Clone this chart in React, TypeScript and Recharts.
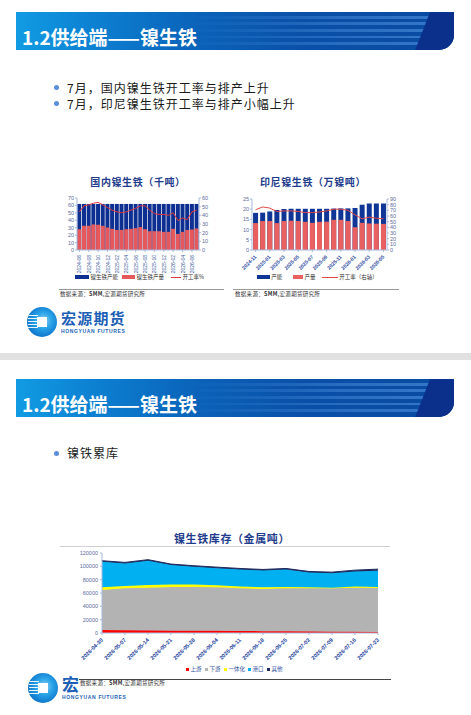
import React from 'react';
import { ComposedChart, Bar, Line, XAxis, YAxis, Legend, AreaChart, Area } from 'recharts';

// ---------- Chart 1: 国内镍生铁（千吨） ----------
const cnMonths = [
  '2024-06', '2024-07', '2024-08', '2024-09', '2024-10', '2024-11', '2024-12',
  '2025-01', '2025-02', '2025-03', '2025-04', '2025-05', '2025-06', '2025-07',
  '2025-08', '2025-09', '2025-10', '2025-11', '2025-12', '2026-01', '2026-02',
  '2026-03', '2026-04', '2026-05', '2026-06', '2026-07',
];
const cnCapacity = [62, 62, 62, 62, 62, 62, 62, 62, 62, 62, 62, 62, 62, 62, 62, 62, 62, 62, 62, 62, 62, 62, 62, 62, 62, 62];
const cnOutput = [28, 32.6, 32.6, 34.4, 34, 32.6, 30.3, 28.5, 27, 27, 28, 28.5, 29.4, 30.8, 28, 25.3, 25.3, 25.3, 24.4, 24.4, 28.5, 21.7, 24.4, 27, 27.6, 29];
const cnRate = [44, 51, 52, 54, 55, 52, 49, 46, 44, 43, 44, 46, 48, 51, 51, 46, 42, 41, 41, 40, 43, 34, 37, 35, 44, 46];
const cnLeftTicks = [0, 10, 20, 30, 40, 50, 60, 70];
const cnRightTicks = [0, 10, 20, 30, 40, 50, 60];

// ---------- Chart 2: 印尼镍生铁（万镍吨） ----------
const idMonths = [
  '2024-11', '2024-12', '2025-01', '2025-02', '2025-03', '2025-04', '2025-05',
  '2025-06', '2025-07', '2025-08', '2025-09', '2025-10', '2025-11', '2025-12',
  '2026-01', '2026-02', '2026-03', '2026-04', '2026-05',
];
const idCapacity = [18.2, 18.3, 18.9, 19.6, 20.1, 20.2, 20.2, 20.2, 20.2, 20.2, 20.2, 20.3, 20.4, 20.4, 20.6, 22.2, 22.8, 22.8, 22.8];
const idOutput = [13.2, 14.2, 14.2, 13.2, 14.2, 14.3, 14.2, 13.8, 13.3, 13.8, 13.9, 14.8, 14.8, 14.2, 11.2, 13.3, 13.0, 12.9, 12.8];
const idRate = [71, 76, 74, 68, 69, 69, 68, 66, 66, 67, 69, 72, 72, 70, 62, 55, 58, 56, 55];
const idLeftTicks = [0, 5, 10, 15, 20, 25];
const idRightTicks = [0, 10, 20, 30, 40, 50, 60, 70, 80, 90];

// ---------- Chart 3: 镍生铁库存（金属吨） ----------
const invDates = [
  '2026-04-30', '2026-05-07', '2026-05-14', '2026-05-21', '2026-05-28', '2026-06-04', '2026-06-11',
  '2026-06-18', '2026-06-25', '2026-07-02', '2026-07-09', '2026-07-16', '2026-07-23',
];
const invUpstream = [4500, 4000, 3800, 3500, 3300, 3200, 3000, 2800, 2600, 2300, 2000, 1800, 1500];
const invDownstream = [60000, 63000, 64200, 65500, 65700, 65400, 64000, 63200, 64400, 64700, 65000, 66200, 66500];
const invIntegrated = [4100, 3600, 4100, 3600, 3600, 3000, 2600, 2600, 2000, 1600, 1000, 1600, 1000];
const invPort = [38300, 33800, 36400, 29300, 26800, 25700, 25700, 25200, 26300, 22200, 21800, 22700, 24300];
const invOther = [1500, 1500, 1500, 1500, 1500, 1500, 1500, 1500, 1500, 1500, 1500, 2000, 2500];
const invTicks = [0, 20000, 40000, 60000, 80000, 100000, 120000];

const cnData = cnMonths.map((m, i) => ({ m, cap: cnCapacity[i], out: cnOutput[i], rate: cnRate[i] }));
const idData = idMonths.map((m, i) => ({ m, cap: idCapacity[i], out: idOutput[i], rate: idRate[i] }));
const invData = invDates.map((d, i) => ({
  d, up: invUpstream[i], down: invDownstream[i], integ: invIntegrated[i], port: invPort[i], other: invOther[i],
}));

const CJK = '"Noto Sans CJK SC", "Noto Sans", sans-serif';
const NUM = '"Liberation Sans", Arial, "Noto Sans CJK SC", sans-serif';

const VTick = (props: any) => {
  const { x, y, payload } = props;
  return (
    <g transform={`translate(${x},${y + 1})`}>
      <text transform="rotate(-90)" textAnchor="end" dominantBaseline="central" fontSize={5} fill="#3a5aa0" fontFamily={NUM}>
        {payload.value}
      </text>
    </g>
  );
};

const DTick = (size: number, color: string, weight: number) => (props: any) => {
  const { x, y, payload } = props;
  return (
    <g transform={`translate(${x},${y + 2})`}>
      <text transform="rotate(-45)" textAnchor="end" dy={size * 0.35} fontSize={size} fontWeight={weight} fill={color} fontFamily={NUM}>
        {payload.value}
      </text>
    </g>
  );
};

type LItem = { x: number; kind: 'bar' | 'line' | 'sq'; color: string; label: string; w: number };
const makeLegend = (items: LItem[], textColor: string) => () => (
  <div style={{ position: 'relative', height: 10, width: '100%' }}>
    {items.map((it) => (
      <div
        key={it.label}
        style={{
          position: 'absolute', left: it.x, top: 0, height: 10, display: 'flex', alignItems: 'center',
          whiteSpace: 'nowrap', fontSize: 5.5, color: textColor, lineHeight: '10px', fontFamily: CJK,
        }}
      >
        <span
          style={{
            display: 'inline-block', width: it.w, height: it.kind === 'line' ? 1 : it.kind === 'sq' ? 3 : 4,
            background: it.color, marginRight: 1.5,
          }}
        />
        {it.label}
      </div>
    ))}
  </div>
);

const axisColor = '#a9bbdc';
const yTickStyle = { fontSize: 5.5, fill: '#5a6c9c', fontFamily: NUM };

function Banner({ top }: { top: number }) {
  const stripes = [3.7, 10, 16.7, 23.4, 30];
  return (
    <div
      style={{
        position: 'absolute', left: 16, top, width: 438, height: 38, borderBottomRightRadius: 15, overflow: 'hidden',
        background: 'linear-gradient(90deg, #119be3 0%, #0c7dcf 20%, #0a62b8 42%, #0a50a8 65%, #0a4aa2 100%)',
      }}
    >
      {stripes.map((s, i) => (
        <div
          key={i}
          style={{
            position: 'absolute', left: 170, top: s, width: 250, height: 2.8,
            background: 'linear-gradient(90deg, rgba(70,140,220,0) 0%, rgba(70,140,220,0.45) 55%, rgba(80,150,225,0.6) 100%)',
          }}
        />
      ))}
      <div
        style={{
          position: 'absolute', left: 0, top: 0, width: 438, height: 38, background: '#0a308c',
          clipPath: 'polygon(414px 0, 438px 0, 438px 38px, 399px 38px)',
        }}
      />
      <div
        style={{
          position: 'absolute', left: 6, top: 15, color: '#fff', fontSize: 19, fontWeight: 700, lineHeight: '19px',
          fontFamily: CJK, whiteSpace: 'nowrap',
        }}
      >
        1.2供给端——镍生铁
      </div>
    </div>
  );
}

function LogoCircle({ left, top }: { left: number; top: number }) {
  const lines = [8, 11, 14, 17, 20];
  return (
    <div
      style={{
        position: 'absolute', left, top, width: 30, height: 30, borderRadius: '50%', overflow: 'hidden',
        background: 'radial-gradient(circle at 55% 45%, #8fd0f5 0%, #2aa3e8 35%, #0f78cc 70%, #0b5db3 100%)',
      }}
    >
      {lines.map((y, i) => (
        <div key={i} style={{ position: 'absolute', left: 1, top: y, width: 10, height: 1.3, background: '#fff', opacity: 0.9 }} />
      ))}
      <div style={{ position: 'absolute', left: 10, top: 10, width: 10, height: 10, background: '#fff' }} />
    </div>
  );
}

function Bullet({ top, text }: { top: number; text: string }) {
  return (
    <>
      <div style={{ position: 'absolute', left: 54, top: top - 2.5, width: 5, height: 5, borderRadius: '50%', background: '#5b8ed8' }} />
      <div
        style={{
          position: 'absolute', left: 67, top: top - 8, fontSize: 12, lineHeight: '16px', letterSpacing: 1,
          color: '#1a1a1a', fontFamily: CJK, whiteSpace: 'nowrap',
        }}
      >
        {text}
      </div>
    </>
  );
}

function Source({ left, top }: { left: number; top: number }) {
  return (
    <div style={{ position: 'absolute', left, top, fontSize: 5.5, lineHeight: '7px', color: '#333', fontFamily: CJK, whiteSpace: 'nowrap', letterSpacing: 0.3 }}>
      数据来源：<b>SMM</b>,宏源期货研究所
    </div>
  );
}

function ChartTitle({ cx, cy, text, size }: { cx: number; cy: number; text: string; size: number }) {
  return (
    <div
      style={{
        position: 'absolute', left: cx - 100, top: cy - size / 2 - 1, width: 200, textAlign: 'center', fontSize: size,
        lineHeight: `${size + 2}px`, fontWeight: 700, color: '#1f3d8c', fontFamily: CJK, whiteSpace: 'nowrap', letterSpacing: 0.6,
      }}
    >
      {text}
    </div>
  );
}

export default function App() {
  return (
    <div style={{ position: 'absolute', left: 0, top: 0, width: 471, height: 715, background: '#fff', overflow: 'hidden' }}>
      {/* ---------- Slide 1 ---------- */}
      <Banner top={12.3} />
      <Bullet top={87.5} text="7月，国内镍生铁开工率与排产上升" />
      <Bullet top={103.5} text="7月，印尼镍生铁开工率与排产小幅上升" />

      <ChartTitle cx={138} cy={182} text="国内镍生铁（千吨）" size={10} />
      <div style={{ position: 'absolute', left: 55, top: 190 }}>
        <ComposedChart width={158} height={98} data={cnData} margin={{ top: 8, right: 0, bottom: 6, left: 0 }} barCategoryGap="6%">
          <XAxis xAxisId="a" dataKey="m" interval={1} height={22} tick={<VTick />} tickLine={{ stroke: axisColor }} tickSize={2} axisLine={{ stroke: axisColor }} />
          <XAxis xAxisId="b" dataKey="m" hide />
          <YAxis yAxisId="l" domain={[0, 70]} ticks={cnLeftTicks} interval={0} width={22} tick={yTickStyle} tickSize={2} tickMargin={1} axisLine={{ stroke: axisColor }} tickLine={{ stroke: axisColor }} />
          <YAxis yAxisId="r" orientation="right" domain={[0, 60]} ticks={cnRightTicks} interval={0} width={14} tick={yTickStyle} tickSize={2} tickMargin={1} axisLine={{ stroke: axisColor }} tickLine={{ stroke: axisColor }} />
          <Bar xAxisId="a" yAxisId="l" dataKey="cap" name="镍生铁产能" fill="#0d2f91" isAnimationActive={false} />
          <Bar xAxisId="b" yAxisId="l" dataKey="out" name="镍生铁产量" fill="#e5585c" isAnimationActive={false} />
          <Line xAxisId="a" yAxisId="r" dataKey="rate" name="开工率%" stroke="#e0393e" strokeWidth={1} dot={false} type="linear" isAnimationActive={false} />
          <Legend
            verticalAlign="bottom"
            height={10}
            wrapperStyle={{ left: 0, width: 158 }}
            content={makeLegend(
              [
                { x: 20, kind: 'bar', color: '#0d2f91', label: '镍生铁产能', w: 14 },
                { x: 67, kind: 'bar', color: '#e5585c', label: '镍生铁产量', w: 13 },
                { x: 116, kind: 'line', color: '#e0393e', label: '开工率%', w: 10 },
              ],
              '#333'
            )}
          />
        </ComposedChart>
      </div>

      <ChartTitle cx={313} cy={182} text="印尼镍生铁（万镍吨）" size={10} />
      <div style={{ position: 'absolute', left: 228, top: 190 }}>
        <ComposedChart width={180} height={98} data={idData} margin={{ top: 9, right: 0, bottom: 6, left: 0 }} barCategoryGap="15%">
          <XAxis xAxisId="a" dataKey="m" interval={1} height={22} tick={DTick(5, '#2b4aa0', 700)} tickLine={{ stroke: axisColor }} tickSize={2} axisLine={{ stroke: axisColor }} />
          <XAxis xAxisId="b" dataKey="m" hide />
          <YAxis yAxisId="l" domain={[0, 25]} ticks={idLeftTicks} interval={0} width={24} tick={yTickStyle} tickSize={2} tickMargin={1} axisLine={{ stroke: axisColor }} tickLine={{ stroke: axisColor }} />
          <YAxis yAxisId="r" orientation="right" domain={[0, 90]} ticks={idRightTicks} interval={0} width={21} tick={yTickStyle} tickSize={2} tickMargin={1} axisLine={{ stroke: axisColor }} tickLine={{ stroke: axisColor }} />
          <Bar xAxisId="a" yAxisId="l" dataKey="cap" name="产能" fill="#0f3596" isAnimationActive={false} />
          <Bar xAxisId="b" yAxisId="l" dataKey="out" name="产量" fill="#e8605f" isAnimationActive={false} />
          <Line xAxisId="a" yAxisId="r" dataKey="rate" name="开工率（右轴）" stroke="#e04848" strokeWidth={1} dot={false} type="linear" isAnimationActive={false} />
          <Legend
            verticalAlign="bottom"
            height={10}
            wrapperStyle={{ left: 0, width: 180 }}
            content={makeLegend(
              [
                { x: 28.7, kind: 'bar', color: '#0f3596', label: '产能', w: 13 },
                { x: 65, kind: 'bar', color: '#e8605f', label: '产量', w: 10 },
                { x: 93.7, kind: 'line', color: '#e04848', label: '开工率（右轴）', w: 16 },
              ],
              '#333'
            )}
          />
        </ComposedChart>
      </div>

      <div style={{ position: 'absolute', left: 59, top: 289, width: 165, height: 1, background: '#9a9a9a' }} />
      <div style={{ position: 'absolute', left: 233, top: 289, width: 166, height: 1, background: '#9a9a9a' }} />
      <Source left={60} top={291} />
      <Source left={235} top={291} />

      <LogoCircle left={27} top={307} />
      <div style={{ position: 'absolute', left: 61, top: 309.5, fontSize: 15, lineHeight: '15px', fontWeight: 700, color: '#1d5fb6', fontFamily: CJK, letterSpacing: 1.2, whiteSpace: 'nowrap' }}>
        宏源期货
      </div>
      <div style={{ position: 'absolute', left: 61, top: 329, fontSize: 5, lineHeight: '5px', fontWeight: 700, color: '#1d5fb6', fontFamily: NUM, letterSpacing: 0.65, whiteSpace: 'nowrap' }}>
        HONGYUAN FUTURES
      </div>

      {/* separator */}
      <div style={{ position: 'absolute', left: 0, top: 353, width: 471, height: 7, background: '#e1e1e1' }} />

      {/* ---------- Slide 2 ---------- */}
      <Banner top={379.3} />
      <Bullet top={453} text="镍铁累库" />

      <ChartTitle cx={232} cy={538} text="镍生铁库存（金属吨）" size={11} />
      <div style={{ position: 'absolute', left: 60, top: 545.5, width: 330, height: 1, background: '#d0d0d0' }} />
      <div style={{ position: 'absolute', left: 58, top: 545 }}>
        <AreaChart width={332} height={133} data={invData} margin={{ top: 8, right: 12, bottom: 4, left: 0 }}>
          <XAxis dataKey="d" interval={0} height={31} tick={DTick(5.5, '#2344a0', 700)} tickLine={{ stroke: axisColor }} tickSize={2} axisLine={{ stroke: axisColor }} />
          <YAxis domain={[0, 120000]} ticks={invTicks} interval={0} width={44} tick={yTickStyle} tickSize={2} tickMargin={2} axisLine={{ stroke: axisColor }} tickLine={{ stroke: axisColor }} />
          <Area dataKey="up" name="上游" stackId="s" type="linear" fill="#ff0000" stroke="#ff0000" strokeWidth={1} fillOpacity={1} isAnimationActive={false} />
          <Area dataKey="down" name="下游" stackId="s" type="linear" fill="#b3b3b3" stroke="#b3b3b3" strokeWidth={1} fillOpacity={1} isAnimationActive={false} />
          <Area dataKey="integ" name="一体化" stackId="s" type="linear" fill="#ffff00" stroke="#ffff00" strokeWidth={1} fillOpacity={1} isAnimationActive={false} />
          <Area dataKey="port" name="港口" stackId="s" type="linear" fill="#00b0f0" stroke="#00b0f0" strokeWidth={1} fillOpacity={1} isAnimationActive={false} />
          <Area dataKey="other" name="其他" stackId="s" type="linear" fill="#1f2a5c" stroke="#1f2a5c" strokeWidth={1} fillOpacity={1} isAnimationActive={false} />
          <Legend
            verticalAlign="bottom"
            height={10}
            wrapperStyle={{ left: 0, width: 332 }}
            content={makeLegend(
              [
                { x: 128, kind: 'sq', color: '#ff0000', label: '上游', w: 3 },
                { x: 147, kind: 'sq', color: '#b3b3b3', label: '下游', w: 3 },
                { x: 166, kind: 'sq', color: '#ffff00', label: '一体化', w: 3 },
                { x: 190, kind: 'sq', color: '#00b0f0', label: '港口', w: 3 },
                { x: 209, kind: 'sq', color: '#1f2a5c', label: '其他', w: 3 },
              ],
              '#3050a0'
            )}
          />
        </AreaChart>
      </div>

      <div style={{ position: 'absolute', left: 79, top: 678.5, width: 312, height: 1, background: '#444' }} />
      <LogoCircle left={28} top={673} />
      <div style={{ position: 'absolute', left: 62, top: 674, fontSize: 17, lineHeight: '19px', fontWeight: 700, color: '#1d5fb6', fontFamily: CJK }}>
        宏
      </div>
      <div style={{ position: 'absolute', left: 62, top: 695, fontSize: 5, lineHeight: '5px', fontWeight: 700, color: '#1d5fb6', fontFamily: NUM, letterSpacing: 0.65, whiteSpace: 'nowrap' }}>
        HONGYUAN FUTURES
      </div>
      <Source left={80} top={680} />
    </div>
  );
}
